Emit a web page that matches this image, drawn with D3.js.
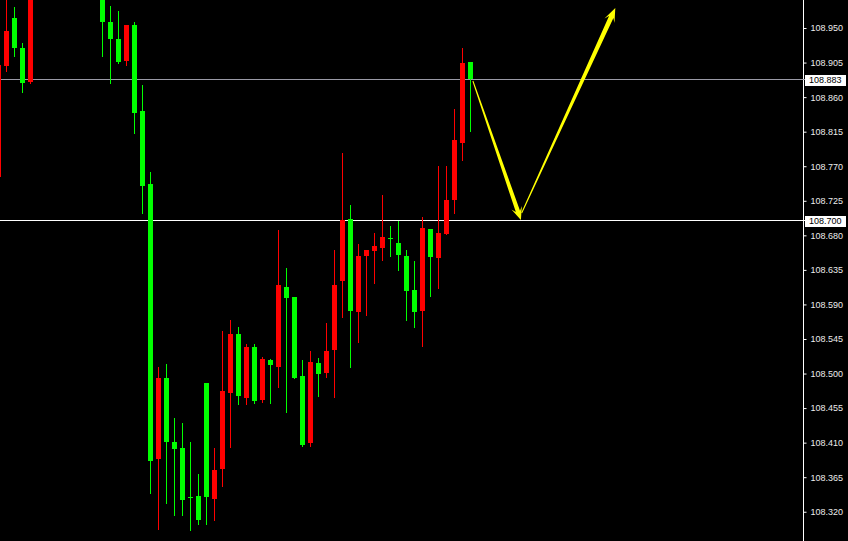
<!DOCTYPE html>
<html><head><meta charset="utf-8">
<script src="https://cdn.jsdelivr.net/npm/d3@7"></script>
<style>html,body{margin:0;padding:0;background:#000;overflow:hidden}svg{display:block}</style>
</head><body>
<svg id="c" width="848" height="541"></svg>
<script>
// bar index (-1 is the partially visible bar at the left edge); null = above the visible range
const barIndex = d3.range(-1, 59);
const openP  = [108.756,108.901,108.963,108.924,108.880,null,null,null,null,null,null,null,null,
  109.000,108.958,108.936,108.907,108.954,108.842,108.747,108.389,108.494,108.411,108.403,108.339,108.341,108.488,
  108.337,108.376,108.475,108.552,108.468,108.535,108.466,108.518,108.509,108.613,108.600,108.497,108.410,108.514,
  108.501,108.531,108.621,108.701,108.580,108.653,108.660,108.664,108.677,108.670,108.653,108.609,108.582,108.688,
  108.651,108.682,108.726,108.800,108.906];
const highP  = [108.910,108.995,108.977,108.931,109.020,null,null,null,null,null,null,null,null,
  109.010,108.979,108.972,108.954,108.958,108.876,108.763,108.509,108.512,108.442,108.436,108.411,108.369,108.488,
  108.403,108.555,108.570,108.561,108.539,108.539,108.522,108.519,108.687,108.638,108.600,108.518,108.529,108.520,
  108.566,108.661,108.787,108.720,108.669,108.661,108.683,108.733,108.692,108.699,108.661,108.647,108.704,108.688,
  108.770,108.770,108.845,108.924,108.906];
const lowP   = [108.750,108.894,108.914,108.867,108.878,null,null,null,null,null,null,null,null,
  108.914,108.878,108.904,108.902,108.813,108.709,108.344,108.298,108.331,108.316,108.316,108.296,108.304,108.304,
  108.309,108.354,108.404,108.460,108.460,108.462,108.463,108.462,108.483,108.450,108.494,108.406,108.406,108.471,
  108.496,108.470,108.574,108.509,108.541,108.576,108.618,108.648,108.653,108.635,108.570,108.561,108.536,108.601,
  108.611,108.682,108.709,108.778,108.816];
const closeP = [108.902,108.946,108.924,108.878,109.000,null,null,null,null,null,null,null,null,
  108.958,108.936,108.906,108.954,108.839,108.744,108.386,108.494,108.411,108.402,108.335,108.339,108.309,108.339,
  108.374,108.477,108.552,108.471,108.535,108.464,108.519,108.511,108.615,108.598,108.494,108.407,108.515,108.499,
  108.529,108.615,108.700,108.582,108.653,108.661,108.666,108.678,108.677,108.654,108.608,108.580,108.690,108.652,
  108.683,108.726,108.804,108.904,108.883];
const tickLabels = ["108.320","108.365","108.410","108.455","108.500","108.545","108.590","108.635",
  "108.680","108.725","108.770","108.815","108.860","108.905","108.950"];
const bidLevel = 108.883;   // grey price line
const levelLine = 108.700;  // white horizontal level
// forecast arrows, in [bar index, price]
const arrowDown = [[58.3,108.881],[64.3,108.700]];
const arrowUp   = [[64.4,108.709],[76.1,108.976]];

const W = 848, H = 541, plotR = 803;
const svg = d3.select("#c");
svg.append("rect").attr("width",W).attr("height",H).attr("fill","#000");

const x = d3.scaleLinear().domain([0, 1]).range([6.5, 14.5]);
const y = d3.scaleLinear().domain([108.2819, 108.9865]).range([H, 0]);

svg.append("defs").append("clipPath").attr("id","plot")
  .append("rect").attr("x",0).attr("y",0).attr("width",plotR).attr("height",H);
const g = svg.append("g").attr("clip-path","url(#plot)");

const bars = barIndex.map((b,k)=>({i:b,o:openP[k],h:highP[k],l:lowP[k],c:closeP[k]}))
  .filter(d=>d.o!==null);
const col = d => d.c > d.o ? "#ff0000" : "#00ff00";

// level lines
g.append("line").attr("x1",0).attr("x2",plotR).attr("y1",Math.round(y(levelLine))+0.5).attr("y2",Math.round(y(levelLine))+0.5)
  .attr("stroke","#ffffff").attr("stroke-width",1);
g.append("line").attr("x1",0).attr("x2",plotR).attr("y1",Math.round(y(bidLevel))+0.5).attr("y2",Math.round(y(bidLevel))+0.5)
  .attr("stroke","#9a9aa6").attr("stroke-width",1);

// wicks
g.selectAll("line.w").data(bars).join("line").attr("class","w")
  .attr("x1",d=>x(d.i)).attr("x2",d=>x(d.i))
  .attr("y1",d=>Math.round(y(d.h))).attr("y2",d=>Math.round(y(d.l))+1)
  .attr("stroke",col).attr("stroke-width",1);
// bodies
g.selectAll("rect.b").data(bars).join("rect").attr("class","b")
  .attr("x",d=>x(d.i)-2.5).attr("width",5)
  .attr("y",d=>Math.round(y(Math.max(d.o,d.c))))
  .attr("height",d=>Math.max(1,Math.round(y(Math.min(d.o,d.c)))-Math.round(y(Math.max(d.o,d.c)))))
  .attr("fill",col).attr("shape-rendering","crispEdges");

// arrows
function arrowPath(pts, w0, w1, L, hw){
  const [sx,sy]=[x(pts[0][0]),y(pts[0][1])], [tx,ty]=[x(pts[1][0]),y(pts[1][1])];
  const len=Math.hypot(tx-sx,ty-sy), ux=(tx-sx)/len, uy=(ty-sy)/len, nx=-uy, ny=ux;
  const ex=tx-ux*L*0.7, ey=ty-uy*L*0.7, bx=tx-ux*L, by=ty-uy*L;
  const P=[[sx+nx*w0,sy+ny*w0],[ex+nx*w1,ey+ny*w1],[bx+nx*hw,by+ny*hw],[tx,ty],
           [bx-nx*hw,by-ny*hw],[ex-nx*w1,ey-ny*w1],[sx-nx*w0,sy-ny*w0]];
  return "M"+P.map(p=>p.join(",")).join("L")+"Z";
}
g.append("path").attr("d",arrowPath(arrowDown,0.5,2.2,13,5.5)).attr("fill","#ffff00");
g.append("path").attr("d",arrowPath(arrowUp,0.5,2.4,14,5.5)).attr("fill","#ffff00");

// axis
const ticks = tickLabels.map(Number);
const ax = svg.append("g").attr("transform",`translate(${plotR+0.5},0)`)
  .call(d3.axisRight(y).tickValues(ticks).tickSize(3).tickPadding(4).tickFormat((d,k)=>tickLabels[k]));
ax.select(".domain").attr("stroke","#ffffff").attr("d",`M0,0V${H}`);
ax.selectAll(".tick line").attr("stroke","#ffffff");
ax.selectAll(".tick text").attr("fill","#ececec").style("font-family","'Liberation Sans',Arial,sans-serif").style("font-size","9px");

// highlighted price labels
[[bidLevel],[levelLine]].forEach(([p])=>{
  const yy=Math.round(y(p));
  svg.append("line").attr("x1",plotR).attr("x2",806).attr("y1",yy+0.5).attr("y2",yy+0.5)
    .attr("stroke", p===bidLevel?"#9a9aa6":"#ffffff");
  svg.append("rect").attr("x",805).attr("y",yy-4).attr("width",41).attr("height",11).attr("fill","#ffffff");
  svg.append("text").attr("x",809).attr("y",yy+1).attr("dy","0.35em").text(p.toFixed(3))
    .attr("fill","#000").style("font-family","'Liberation Sans',Arial,sans-serif").style("font-size","9px");
});
</script>
</body></html>
